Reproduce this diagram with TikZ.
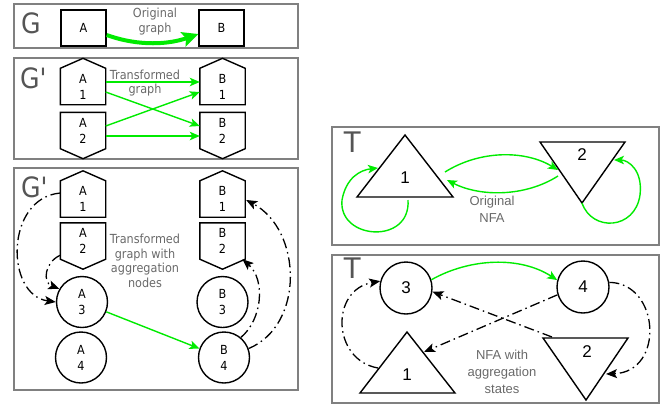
\documentclass[tikz,border=0pt]{standalone}
\usepackage{fontspec}
\newfontfamily\tah[FakeStretch=0.9]{DejaVu Sans}
\newfontfamily\arl{Liberation Sans}
\usetikzlibrary{arrows.meta,calc}
\definecolor{panelgray}{RGB}{128,128,128}
\definecolor{txtgray}{RGB}{105,105,105}
\definecolor{biggray}{RGB}{85,85,85}
\definecolor{lgreen}{RGB}{0,235,0}
\newcommand{\pentup}[1]{\draw[shapeline] (#1.south west) -- (#1.south east) -- (#1.north east) -- ([yshift=10pt]#1.north) -- (#1.north west) -- cycle;}
\newcommand{\pentdown}[1]{\draw[shapeline] (#1.north west) -- (#1.north east) -- (#1.south east) -- ([yshift=-10pt]#1.south) -- (#1.south west) -- cycle;}
\tikzset{
  panel/.style={draw=panelgray, line width=1.3pt},
  shapeline/.style={draw=black, line width=1.4pt},
  boxnode/.style={minimum width=45pt, minimum height=36pt, inner sep=0pt, align=center, font=\tah\fontsize{12.5}{16}\selectfont},
  rectnode/.style={boxnode, draw, line width=1.4pt},
  circnode/.style={circle, draw, line width=1.4pt, minimum size=51pt, inner sep=0pt, align=center, font=\tah\fontsize{12.5}{16}\selectfont},
  biglabel/.style={text=biggray, font=\tah\fontsize{28}{28}\selectfont, inner sep=0pt, anchor=base west},
  tlabel/.style={text=biggray, font=\arl\fontsize{30}{30}\selectfont, inner sep=0pt, anchor=base west},
  note/.style={text=txtgray, font=\tah\fontsize{12.5}{14.5}\selectfont, align=center, inner sep=0pt},
  tnote/.style={text=txtgray, font=\arl\fontsize{13}{17}\selectfont, align=center, inner sep=0pt},
  statenum/.style={font=\arl\fontsize{17}{17}\selectfont, inner sep=0pt},
  tstate/.style={circle, draw, line width=1.4pt, minimum size=52pt, inner sep=0pt, font=\arl\fontsize{17}{17}\selectfont},
  garrow/.style={draw=lgreen, line width=1.4pt, -{Stealth[length=10pt,width=8.5pt,inset=2.5pt]}},
  gthick/.style={draw=lgreen, line width=4pt, -{Stealth[length=16pt,width=15pt,inset=3pt]}},
  ddarrow/.style={draw=black, line width=1.3pt, dash pattern=on 10pt off 4pt on 1.5pt off 4pt, -{Stealth[length=11pt,width=9pt,inset=2.5pt]}}
}
\begin{document}
\begin{tikzpicture}[x=1pt,y=-1pt]
\path[use as bounding box] (0,0) rectangle (668,405);
% panels
\draw[panel] (14,4) rectangle (298,48);
\draw[panel] (14,58) rectangle (298,159);
\draw[panel] (14,168) rectangle (298,390);
\draw[panel] (332,127) rectangle (659,245);
\draw[panel] (332,255) rectangle (659,403);

% ---------- panel G
\node[biglabel] (lg) at (21,33) {G};
\node[rectnode] (ga) at (83.5,28) {A};
\node[rectnode] (gb) at (221.5,28) {B};
\node[note] (ng) at (155,21.5) {Original\\graph};
\draw[gthick] ($(ga.east)+(0,7)$) .. controls (140,47) and (170,44) .. ($(gb.west)+(0,6)$);

% ---------- panel G'
\node[biglabel] (lg2) at (20,88) {G'};
\node[boxnode] (pa1) at (83,86.5) {A\\1};
\node[boxnode] (pa2) at (83,130.5) {A\\2};
\node[boxnode] (pb1) at (222.5,86.5) {B\\1};
\node[boxnode] (pb2) at (222.5,130.5) {B\\2};
\pentup{pa1}\pentdown{pa2}\pentup{pb1}\pentdown{pb2}
\node[note] (ng2) at (145,83) {Transformed\\graph};
\draw[garrow] ($(pa1.east)+(0,-4.5)$) -- ($(pb1.west)+(0,-4.5)$);
\draw[garrow] ($(pa1.east)+(0,5.5)$) -- ($(pb2.west)+(0,-4.5)$);
\draw[garrow] ($(pa2.east)+(0,-4.5)$) -- ($(pb1.west)+(0,5.5)$);
\draw[garrow] ($(pa2.east)+(0,5.5)$) -- ($(pb2.west)+(0,5.5)$);

% ---------- panel G' with aggregation
\node[biglabel] (lg3) at (21,197) {G'};
\node[boxnode] (qa1) at (83,199) {A\\1};
\node[boxnode] (qa2) at (83,241) {A\\2};
\node[circnode] (qa3) at (82,302) {A\\3};
\node[circnode] (qa4) at (81,357.5) {A\\4};
\node[boxnode] (qb1) at (222.5,199) {B\\1};
\node[boxnode] (qb2) at (222.5,241) {B\\2};
\node[circnode] (qb3) at (222.5,302) {B\\3};
\node[circnode] (qb4) at (224,357.5) {B\\4};
\pentup{qa1}\pentdown{qa2}\pentup{qb1}\pentdown{qb2}
\node[note] (ng3) at (145,261) {Transformed\\graph with\\aggregation\\nodes};
\draw[ddarrow] ($(qa1.west)+(0,-6)$) .. controls (5,198) and (5,295) .. (qa3.west);
\draw[ddarrow] ($(qa2.south west)+(0,-4)$) .. controls (45,262) and (42,282) .. (qa3.150);
\draw[garrow] (qa3.-22) -- (qb4.160);
\draw[ddarrow] (qb4.20) .. controls (305,325) and (302,230) .. ($(qb1.east)+(1,1)$);
\draw[ddarrow] (qb4.50) .. controls (262,320) and (266,280) .. ($(qb2.south east)!0.12!(qb2.south)$);

% ---------- panel T (original NFA)
\node[tlabel] (lt) at (343,152) {T};
\coordinate (t1a) at (405,135);
\coordinate (t1l) at (357,197);
\coordinate (t1r) at (453,197);
\coordinate (t2l) at (540,142);
\coordinate (t2r) at (625,142);
\coordinate (t2b) at (582,203);
\draw[shapeline] (t1a) -- (t1l) -- (t1r) -- cycle;
\draw[shapeline] (t2l) -- (t2r) -- (t2b) -- cycle;
\node[statenum] (n1) at (405,178) {1};
\node[statenum] (n2) at (582,155) {2};
\node[tnote] (nt) at (492,209) {Original\\NFA};
\coordinate (s1out) at (445,172);
\coordinate (s2in) at (558,170);
\coordinate (s2out) at (558,176);
\coordinate (s1in) at (447,180);
\coordinate (s1bot) at (408,200);
\coordinate (s1left) at (378,168);
\coordinate (s2right) at (614,160);
\draw[garrow] (s1out) .. controls (480,150) and (525,150) .. (s2in);
\draw[garrow] (s2out) .. controls (525,197) and (480,197) .. (s1in);
\draw[garrow] (s1bot) .. controls (411,245) and (338,240) .. (342,200) .. controls (346,178) and (360,170) .. (s1left);
\draw[garrow] (t2b) .. controls (592,232) and (635,230) .. (640,195) .. controls (643,170) and (628,160) .. (s2right);

% ---------- panel T (aggregation states)
\node[tlabel] (lt2) at (343,278) {T};
\node[tstate] (c3) at (406,288) {3};
\node[tstate] (c4) at (583,287) {4};
\coordinate (u1a) at (407,332);
\coordinate (u1l) at (360,393);
\coordinate (u1r) at (455,393);
\coordinate (u2l) at (543,338);
\coordinate (u2r) at (628,338);
\coordinate (u2b) at (586,400);
\draw[shapeline] (u1a) -- (u1l) -- (u1r) -- cycle;
\draw[shapeline] (u2l) -- (u2r) -- (u2b) -- cycle;
\node[statenum] (m1) at (407,375) {1};
\node[statenum] (m2) at (587,352) {2};
\node[tnote] (nt2) at (502,372) {NFA with\\aggregation\\states};
\coordinate (u1in) at (424,352);
\coordinate (u1out) at (378,368);
\coordinate (u2top) at (552,337);
\coordinate (u2in) at (606,374);
\draw[garrow] (c3.18) .. controls (470,258) and (520,256) .. (c4.165);
\draw[ddarrow] (c4.197) -- (u1in);
\draw[ddarrow] (u2top) -- (c3.-8);
\draw[ddarrow] (u1out) .. controls (332,360) and (330,290) .. (c3.165);
\draw[ddarrow] (c4.10) .. controls (660,283) and (665,372) .. (u2in);
\end{tikzpicture}
\end{document}
